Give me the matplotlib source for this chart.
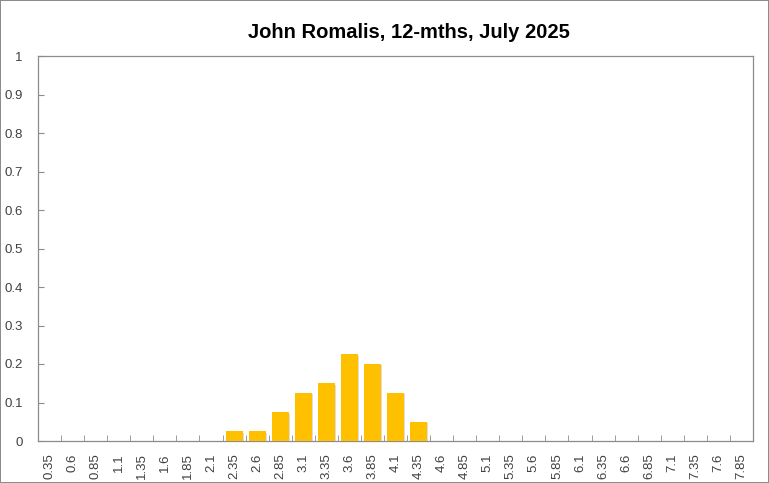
import matplotlib
matplotlib.use("Agg")
import matplotlib.pyplot as plt
import matplotlib.patheffects as pe
import numpy as np

categories = ["0.35", "0.6", "0.85", "1.1", "1.35", "1.6", "1.85", "2.1", "2.35", "2.6",
              "2.85", "3.1", "3.35", "3.6", "3.85", "4.1", "4.35", "4.6", "4.85", "5.1",
              "5.35", "5.6", "5.85", "6.1", "6.35", "6.6", "6.85", "7.1", "7.35", "7.6", "7.85"]
values = [0, 0, 0, 0, 0, 0, 0, 0, 0.025, 0.025,
          0.075, 0.125, 0.15, 0.225, 0.2, 0.125, 0.05, 0, 0, 0,
          0, 0, 0, 0, 0, 0, 0, 0, 0, 0, 0]
yticks = [0, 0.1, 0.2, 0.3, 0.4, 0.5, 0.6, 0.7, 0.8, 0.9, 1]
ytick_labels = ["0", "0.1", "0.2", "0.3", "0.4", "0.5", "0.6", "0.7", "0.8", "0.9", "1"]
title = "John Romalis, 12-mths, July 2025"

plt.rcParams['font.family'] = ['Liberation Sans', 'DejaVu Sans']

W, H = 769, 483
fig = plt.figure(figsize=(W / 100, H / 100), dpi=100)
fig.patch.set_facecolor("white")
fig.patch.set_edgecolor("#8c8c8c")
fig.patch.set_linewidth(1.2)

ax = fig.add_axes([38 / W, (H - 441) / H, (753 - 38) / W, (441 - 56) / H])
x = np.arange(len(categories))
bars = ax.bar(x, values, width=0.74, color="#FFC000", zorder=3)
for b in bars:
    b.set_path_effects([pe.SimplePatchShadow(offset=(1.0, -1.0), shadow_rgbFace="#a0a0a0", alpha=0.35), pe.Normal()])

ax.set_xlim(-0.5, len(categories) - 0.5)
ax.set_ylim(0, 1)
ax.set_yticks(yticks)
ax.set_yticklabels(ytick_labels, fontsize=9.5, color="#404040")
ax.set_xticks(x)
ax.set_xticklabels(categories, rotation=90, fontsize=9.5, color="#404040")
ax.set_xticks(np.arange(len(categories) + 1) - 0.5, minor=True)
ax.tick_params(axis="x", which="major", length=0, pad=9)
ax.tick_params(axis="x", which="minor", direction="in", length=4, color="#8c8c8c")
ax.tick_params(axis="y", direction="in", length=4, color="#8c8c8c", pad=11)
for s in ax.spines.values():
    s.set_color("#8c8c8c")
    s.set_linewidth(0.9)

fig.text(409 / W, 1 - 32 / H, title, ha="center", va="center", fontsize=14.5,
         fontweight="bold", color="black")

fig.savefig("out.png", dpi=100)
